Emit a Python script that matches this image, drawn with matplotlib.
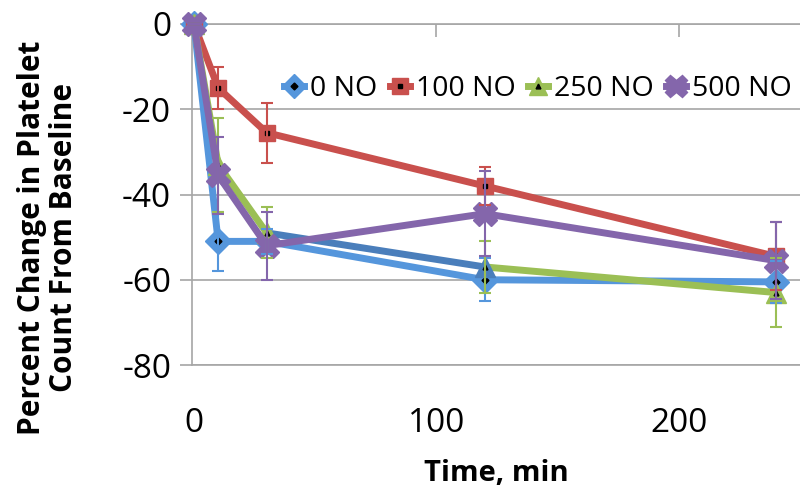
import matplotlib
matplotlib.use("Agg")
import matplotlib.pyplot as plt
from matplotlib.lines import Line2D

plt.rcParams['font.family'] = ['Open Sans', 'DejaVu Sans']
plt.rcParams['axes.unicode_minus'] = False

# data
tiempos = [0, 10, 30, 120, 240]
series = ["0 NO", "100 NO", "250 NO", "500 NO"]
valores_0 = [0, -51, -51, -60, -60.5]
valores_100 = [0, -15, -25.5, -38, -54.5]
valores_250 = [0, -33, -49, -57, -63]
valores_500 = [0, -35.5, -52, -44.5, -55.5]
erros_0 = [0, 7, 3, 5, 5]
erros_100 = [0, 5, 7, 4.5, 8]
erros_250 = [0, 11, 6, 6, 8]
erros_500 = [0, 9, 8, 10, 9]
xticks = [0, 100, 200]
yticks = [0, -20, -40, -60, -80]

cores = ['#5596dc', '#c9504d', '#9bbf55', '#8466ab']
marcadores = ['D', 's', '^', 'X']
tam_marc = [13, 12, 14, 17]
internos = ['D', 's', '^', None]

fig = plt.figure(figsize=(8, 4.91), dpi=100)
ax = fig.add_axes([192 / 800, 1 - 365 / 491, 608 / 800, 341 / 491])

dados = [valores_0, valores_100, valores_250, valores_500]
erros = [erros_0, erros_100, erros_250, erros_500]

for i, (vals, errs) in enumerate(zip(dados, erros)):
    z = 3 + i
    if i == 2:
        # the 30->120 segment of this series is drawn in steel blue in the original
        ax.plot(tiempos[:3], vals[:3], color=cores[i], lw=5, zorder=z, clip_on=False)
        ax.plot(tiempos[2:4], vals[2:4], color='#4a7ebb', lw=5, zorder=z, clip_on=False)
        ax.plot(tiempos[3:], vals[3:], color=cores[i], lw=5, zorder=z, clip_on=False)
        cor_m = [cores[i], cores[i], cores[i], '#4a7ebb', cores[i]]
        for t, v, c in zip(tiempos, vals, cor_m):
            ax.plot(t, v, marker=marcadores[i], ms=tam_marc[i], color=c, zorder=z, clip_on=False)
    else:
        ax.plot(tiempos, vals, color=cores[i], lw=5, marker=marcadores[i],
                ms=tam_marc[i], zorder=z, clip_on=False)
    if internos[i]:
        ax.plot(tiempos, vals, ls='none', marker=internos[i], ms=3.5, color='black',
                zorder=z + 0.5, clip_on=False)
    ax.errorbar(tiempos, vals, yerr=errs, fmt='none', ecolor=cores[i], elinewidth=1.5,
                capsize=4, capthick=1.5, zorder=8, clip_on=False)

ax.set_xlim(-0.8, 250)
ax.set_ylim(-80, 0)
ax.set_xticks(xticks)
ax.set_yticks(yticks)
ax.yaxis.grid(True, color='#a6a6a6', lw=1.2)
ax.set_axisbelow(True)
for lado in ['left', 'bottom', 'top']:
    ax.spines[lado].set_color('#a6a6a6')
    ax.spines[lado].set_linewidth(1.2)
ax.spines['right'].set_visible(False)
ax.tick_params(axis='y', direction='out', length=9, width=1.2, color='#a6a6a6',
               labelsize=24, pad=6)
ax.tick_params(axis='x', bottom=False, top=True, direction='in', length=9, width=1.2,
               color='#a6a6a6', labeltop=False, labelbottom=True, labelsize=24, pad=30)

ax.set_xlabel("Time, min", fontsize=21, fontweight='bold', labelpad=14)
fig.text(48 / 800, 1 - 238 / 491, "Percent Change in Platelet\nCount From Baseline",
         rotation=90, ha='center', va='center', multialignment='center',
         fontsize=21.5, fontweight='bold', linespacing=1.05)

alcas = []
for i in range(4):
    base = Line2D([], [], color=cores[i], lw=5, marker=marcadores[i], ms=tam_marc[i] * 0.95)
    if internos[i]:
        alcas.append((base, Line2D([], [], ls='none', marker=internos[i], ms=3.5, color='black')))
    else:
        alcas.append(base)
ax.legend(alcas, series, loc='center right', bbox_to_anchor=(1.005, 0.81), ncol=4,
          frameon=False, fontsize=20.5, handlelength=0.7, handletextpad=0.2,
          columnspacing=0.45, borderaxespad=0)

fig.savefig("out.png", dpi=100)
